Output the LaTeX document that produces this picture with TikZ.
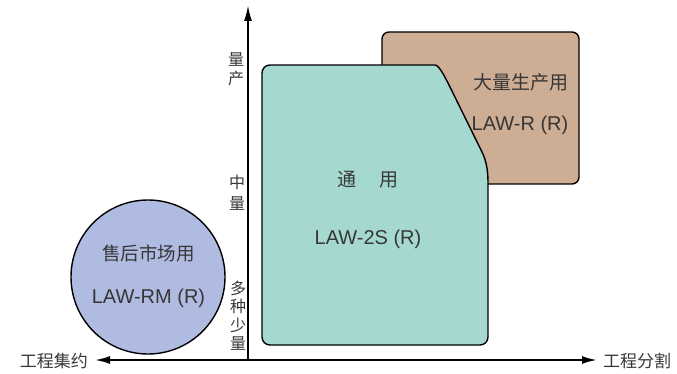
\documentclass[tikz,border=0pt]{standalone}
\usepackage{fontspec}
\setmainfont{Liberation Sans}
\newfontfamily\cjk{Noto Sans CJK SC}
\usetikzlibrary{arrows.meta}
\definecolor{tealfill}{RGB}{165,217,208}
\definecolor{brownfill}{RGB}{205,173,148}
\definecolor{bluefill}{RGB}{175,187,225}
\definecolor{txt}{RGB}{55,55,55}
\tikzset{
  region/.style={draw=black, line width=1.4pt},
  axis/.style={line width=2pt, {Latex[length=15pt,width=8pt]}-{Latex[length=15pt,width=8pt]}},
  axisup/.style={line width=2pt, -{Latex[length=16pt,width=8pt]}},
  zh/.style={text=txt, inner sep=0pt, font=\cjk\fontsize{19}{22}\selectfont},
  lat/.style={text=txt, inner sep=0pt, font=\fontsize{20}{24}\selectfont},
  axlab/.style={text=txt, inner sep=0pt, align=center, font=\cjk\fontsize{16}{18.5}\selectfont},
}
\begin{document}
\begin{tikzpicture}[x=1pt,y=-1pt]
\useasboundingbox (0,0) rectangle (677,374);
% brown box
\draw[region, fill=brownfill, rounded corners=7pt] (382,32) rectangle (579,184);
% teal shape
\draw[region, fill=tealfill, rounded corners=8pt]
  (262,150) -- (262,65) -- (427,65) [sharp corners]
  .. controls (439,65) and (445,77) .. (450,87)
  -- (482,152) .. controls (486,160) and (488,170) .. (488,182)
  [rounded corners=8pt] -- (488,345) -- (262,345) -- cycle;
% circle
\draw[region, fill=bluefill] (148,277) circle[radius=77];
% axes
\coordinate (xl) at (95,360);
\coordinate (xr) at (597,360);
\coordinate (y0) at (248,360);
\coordinate (yt) at (248,5);
\draw[axis] (xl) -- (xr);
\draw[axisup] (y0) -- (yt);
% texts
\node[zh] (big) at (521,82) {大量生产用};
\node[lat] (lawr) at (520,125) {LAW-R (R)};
\node[zh] (gen) at (368,180) {通\hspace{23pt}用};
\node[lat] (law2s) at (368,239) {LAW-2S (R)};
\node[zh, font=\cjk\fontsize{18.5}{22}\selectfont] (after) at (148.5,253) {售后市场用};
\node[lat] (lawrm) at (148.5,298) {LAW-RM (R)};
\node[axlab] (mass) at (236,69) {量\\产};
\node[axlab, font=\cjk\fontsize{16}{20.5}\selectfont] (mid) at (237,192.5) {中\\量};
\node[axlab] (few) at (238,315.5) {多\\种\\少\\量};
\node[text=txt, inner sep=0pt, font=\cjk\fontsize{17}{20}\selectfont, anchor=east] (intg) at (88,361) {工程集约};
\node[text=txt, inner sep=0pt, font=\cjk\fontsize{17}{20}\selectfont, anchor=west] (sep) at (603,361) {工程分割};
\end{tikzpicture}
\end{document}
